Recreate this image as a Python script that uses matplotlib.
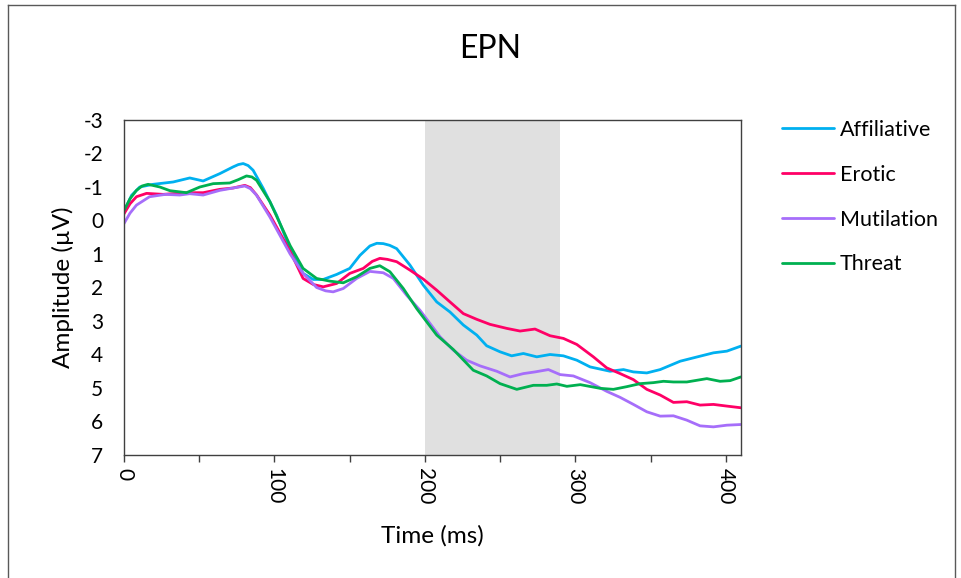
import matplotlib
matplotlib.use("Agg")
import matplotlib.pyplot as plt
from matplotlib.lines import Line2D

plt.rcParams['font.family'] = ['Lato', 'DejaVu Sans']
plt.rcParams['axes.unicode_minus'] = False

title = "EPN"
x_label = "Time (ms)"
y_label = "Amplitude (µV)"
series_names = ["Affiliative", "Erotic", "Mutilation", "Threat"]
colors = ["#00B0F0", "#FF0066", "#A66EFA", "#00B050"]
window = (200, 290)

aff_t = [0, 5, 10.5, 19.4, 32.7, 43.7, 52.6, 63.7, 72.5, 76, 79.2, 82.5, 85.8, 92.5, 101.4, 110.4, 119,
         125.8, 132.4, 141.3, 150, 156.8, 163.4, 168, 172.3, 176.5, 181.2, 190, 198.9, 207.8, 216.6,
         225.5, 234.4, 241, 249.9, 257.6, 265.4, 274.3, 283.1, 292, 300.9, 309.7, 323, 331.9, 338.5,
         347.4, 356.3, 369.6, 378.4, 391.7, 400.6, 409.9]
aff_v = [-0.26, -0.75, -1.0, -1.08, -1.15, -1.27, -1.18, -1.40, -1.60, -1.67, -1.70, -1.64, -1.50, -0.96,
         -0.16, 0.85, 1.58, 1.76, 1.76, 1.61, 1.43, 1.04, 0.76, 0.68, 0.69, 0.74, 0.84, 1.33, 1.93,
         2.43, 2.73, 3.12, 3.42, 3.74, 3.92, 4.04, 3.97, 4.07, 4.0, 4.04, 4.17, 4.37, 4.50, 4.45, 4.52,
         4.55, 4.45, 4.20, 4.10, 3.95, 3.90, 3.75]

ero_t = [0, 4, 8.3, 15, 26, 41.5, 52.6, 63.7, 72.5, 80.3, 84, 88.1, 97, 110.4, 119, 125.8, 132.4,
         141.3, 150, 159, 165, 170, 175, 181.2, 190, 198.9, 207.8, 216.6, 225.5, 234.4, 243.2, 254.3,
         263.2, 273.1, 283.1, 292, 300.9, 311.9, 320.8, 329.7, 338.5, 347.4, 356.3, 365.1, 374, 382.8,
         391.7, 400.6, 409.9]
ero_v = [-0.2, -0.5, -0.71, -0.81, -0.78, -0.83, -0.83, -0.93, -0.97, -1.05, -0.98, -0.76, -0.16, 0.92,
         1.73, 1.91, 1.98, 1.88, 1.58, 1.43, 1.22, 1.13, 1.16, 1.23, 1.48, 1.75, 2.08, 2.43, 2.78, 2.95,
         3.10, 3.22, 3.30, 3.24, 3.44, 3.52, 3.70, 4.07, 4.40, 4.57, 4.75, 5.04, 5.21, 5.43, 5.41,
         5.51, 5.49, 5.54, 5.59]

mut_t = [0, 4, 8.3, 17, 27.6, 37, 43.7, 52.6, 63.7, 72.5, 80.3, 84, 88, 97, 110.4, 119, 128, 134, 139,
         145.7, 154.6, 163.4, 172.3, 179, 187.8, 196.7, 210, 218.8, 227.7, 236.6, 247.7, 256.5, 265.4,
         273.1, 282, 289.8, 298.6, 309.7, 320.8, 329.7, 338.5, 347.4, 356.3, 365.1, 374, 382.8, 391.7,
         400.6, 409.9]
mut_v = [0.09, -0.22, -0.46, -0.71, -0.78, -0.76, -0.8, -0.76, -0.9, -0.97, -1.03, -0.95, -0.76, -0.1,
         1.0, 1.58, 2.0, 2.1, 2.13, 2.03, 1.73, 1.52, 1.56, 1.73, 2.23, 2.68, 3.47, 3.87, 4.17, 4.34,
         4.5, 4.67, 4.57, 4.52, 4.45, 4.60, 4.64, 4.84, 5.10, 5.28, 5.49, 5.71, 5.84, 5.83, 5.96, 6.13,
         6.16, 6.11, 6.09]

thr_t = [0, 4, 8.3, 12, 16, 23.8, 30.5, 41.5, 50.4, 59.3, 70.3, 76, 81.4, 85, 88.1, 97, 110.4, 119, 128,
         136.8, 145.7, 154.6, 163.4, 170, 176.7, 185.6, 194.5, 207.8, 218.8, 232.1, 241, 249.9, 261,
         272, 280.9, 287.6, 294.3, 303.2, 316.4, 325.2, 334.1, 343, 351.8, 358.5, 365.1, 374, 387.3,
         396.1, 402.8, 409.9]
thr_v = [-0.3, -0.65, -0.9, -1.03, -1.08, -1.0, -0.89, -0.83, -1.0, -1.10, -1.12, -1.22, -1.33, -1.3,
         -1.2, -0.56, 0.75, 1.43, 1.73, 1.81, 1.86, 1.68, 1.43, 1.35, 1.53, 2.03, 2.63, 3.42, 3.85,
         4.47, 4.64, 4.87, 5.04, 4.92, 4.92, 4.88, 4.95, 4.90, 5.01, 5.04, 4.96, 4.87, 4.84, 4.80, 4.82,
         4.82, 4.72, 4.80, 4.78, 4.67]

x_ticks = [0, 100, 200, 300, 400]
y_ticks = [-3, -2, -1, 0, 1, 2, 3, 4, 5, 6, 7]

W, H = 961, 578
fig = plt.figure(figsize=(W / 100, H / 100), dpi=100)
ax = fig.add_axes([124 / W, 1 - 455 / H, (741 - 124) / W, (455 - 120) / H])

ax.axvspan(window[0], window[1], color="#E0E0E0", lw=0, zorder=0)
data = [(aff_t, aff_v), (ero_t, ero_v), (mut_t, mut_v), (thr_t, thr_v)]
for (t, v), name, c in zip(data, series_names, colors):
    ax.plot(t, v, color=c, lw=2.0, label=name, solid_joinstyle="round", solid_capstyle="round")

ax.set_xlim(0, 410)
ax.set_ylim(7, -3)
ax.set_xticks(x_ticks)
ax.set_xticks(list(range(50, 410, 100)), minor=True)
ax.set_yticks(y_ticks)
ax.tick_params(axis="x", which="both", direction="out", length=5, width=1, color="#404040",
               labelsize=15, pad=4, labelrotation=-90)
ax.tick_params(axis="y", length=0, labelsize=15, pad=15)
for s in ax.spines.values():
    s.set_color("#404040")
    s.set_linewidth(1)

ax.set_xlabel(x_label, fontsize=17.5, labelpad=15)
ax.set_ylabel(y_label, fontsize=17.5, labelpad=7)
fig.text(490 / W, 1 - 49 / H, title, ha="center", va="center", fontsize=23)

ax.legend(loc="upper left", bbox_to_anchor=(782 / W, 1 - 120 / H), bbox_transform=fig.transFigure,
          frameon=False, fontsize=15.5, handlelength=2.4, handletextpad=0.28, labelspacing=1.15,
          borderpad=0, borderaxespad=0)

fig.add_artist(Line2D([8 / W, 8 / W], [0, 1 - 5 / H], transform=fig.transFigure, color="#595959", lw=1))
fig.add_artist(Line2D([8 / W, 955 / W], [1 - 5 / H, 1 - 5 / H], transform=fig.transFigure, color="#595959", lw=1))
fig.add_artist(Line2D([955 / W, 955 / W], [0, 1 - 5 / H], transform=fig.transFigure, color="#595959", lw=1))

fig.savefig("out.png", dpi=100)
